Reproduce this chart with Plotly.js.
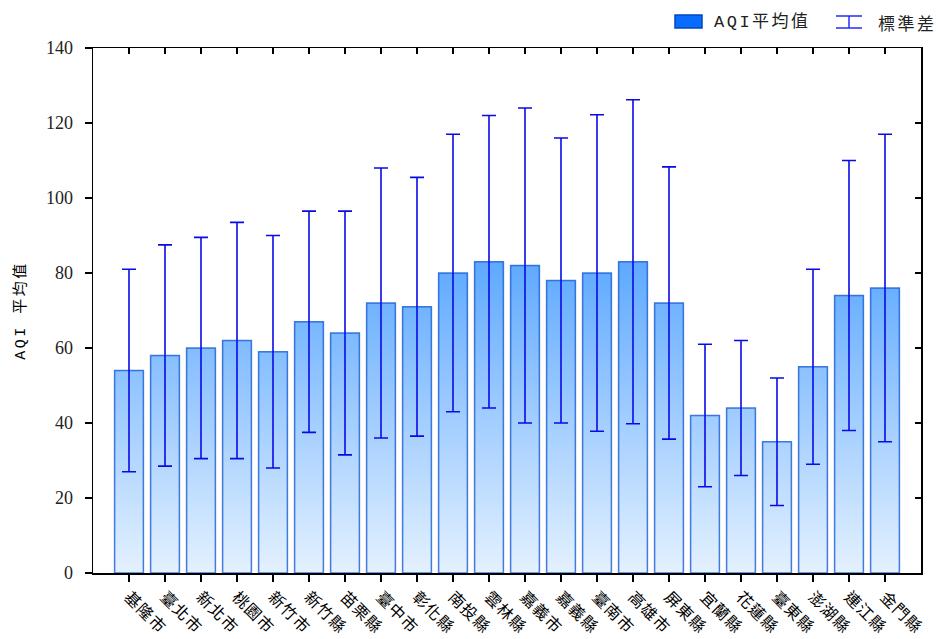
<!DOCTYPE html>
<html><head><meta charset="utf-8">
<script src="https://cdn.plot.ly/plotly-3.0.1.min.js"></script>
<style>
body{margin:0;background:#fff}
#chart{width:939px;height:639px}
#chart .xtick text{letter-spacing:1px}
#chart .annotation-text{letter-spacing:2.5px}
#chart .ytitle{letter-spacing:2.5px}
</style>
</head><body><div id="chart"></div>
<script>
const counties = ['基隆市','臺北市','新北市','桃園市','新竹市','新竹縣','苗栗縣','臺中市','彰化縣','南投縣','雲林縣','嘉義市','嘉義縣','臺南市','高雄市','屏東縣','宜蘭縣','花蓮縣','臺東縣','澎湖縣','連江縣','金門縣'];
const aqiMean = [54,58,60,62,59,67,64,72,71,80,83,82,78,80,83,72,42,44,35,55,74,76];
const aqiStd  = [27,29.5,29.5,31.5,31,29.5,32.5,36,34.5,37,39,42,38,42.2,43.2,36.3,19,18,17,26,36,41];
const yTicks = [0,20,40,60,80,100,120,140];
const seriesName = 'AQI平均值';
const errName = '標準差';

const idx = counties.map((_, i) => i);
const half = 0.4;
const px = [], py = [];
idx.forEach(i => {
  px.push(i - half, i - half, i + half, i + half, i - half, null);
  py.push(0, aqiMean[i], aqiMean[i], 0, 0, null);
});
const maxMean = Math.max(...aqiMean);

const cjk = 'Noto Sans CJK TC';
const traces = [
  {
    type: 'scatter', x: px, y: py, mode: 'lines', fill: 'toself',
    line: {color: 'rgba(10,80,210,0.75)', width: 1.5},
    fillgradient: {type: 'vertical', start: 0, stop: maxMean,
      colorscale: [[0, '#e4f1ff'], [1, '#5ea9ff']]},
    name: seriesName, showlegend: false, hoverinfo: 'skip'
  },
  {
    type: 'scatter', x: idx, y: aqiMean, mode: 'markers',
    marker: {color: 'rgba(0,0,0,0)', size: 2},
    error_y: {type: 'data', array: aqiStd, symmetric: true, color: '#0a0ae8', thickness: 1.6, width: 7},
    name: errName, showlegend: false,
    text: counties, hovertemplate: '%{text}: %{y}<extra></extra>'
  },
  {
    type: 'scatter', x: [0], y: [null], xaxis: 'x2', yaxis: 'y2', mode: 'markers',
    showlegend: false, hoverinfo: 'skip'
  }
];

const L = 93, R = 921, T = 48, B = 573;
const pxX = v => (v - L) / (R - L);
const pxY = v => (B - v) / (B - T);

const layout = {
  width: 939, height: 639,
  margin: {l: L, r: 939 - R, t: T, b: 639 - B},
  paper_bgcolor: '#fff', plot_bgcolor: '#fff',
  showlegend: false,
  xaxis: {
    range: [-1, 22], tickmode: 'array', tickvals: idx, ticktext: counties,
    tickangle: 45, ticks: 'outside', ticklen: 7, tickcolor: '#000', tickwidth: 1.5,
    showline: true, linecolor: '#000', linewidth: 1.5, showgrid: false, zeroline: false,
    tickfont: {family: cjk, size: 16, color: '#000'}
  },
  xaxis2: {
    overlaying: 'x', side: 'top', range: [-1, 22], tickmode: 'array', tickvals: idx,
    ticks: 'inside', ticklen: 6, tickcolor: '#000', tickwidth: 1.5,
    showticklabels: false, showline: true, linecolor: '#000', linewidth: 1.5,
    showgrid: false, zeroline: false
  },
  yaxis: {
    range: [0, 140], tickmode: 'array', tickvals: yTicks,
    ticks: 'outside', ticklen: 7, tickcolor: '#000', tickwidth: 1.5,
    showline: true, linecolor: '#000', linewidth: 1.5, showgrid: false, zeroline: false,
    ticklabelstandoff: 8,
    tickfont: {family: 'Liberation Serif, serif', size: 18, color: '#222'},
    title: {text: 'AQI 平均值', standoff: 16, font: {family: 'Liberation Mono, ' + cjk, size: 15, color: '#000'}}
  },
  yaxis2: {
    overlaying: 'y', side: 'right', range: [0, 140], tickmode: 'array', tickvals: yTicks,
    ticks: 'inside', ticklen: 6, tickcolor: '#000', tickwidth: 1.5,
    showticklabels: false, showline: true, linecolor: '#000', linewidth: 1.5,
    showgrid: false, zeroline: false
  },
  shapes: [
    {type: 'rect', xref: 'paper', yref: 'paper', x0: pxX(675), x1: pxX(702), y0: pxY(28), y1: pxY(15),
      fillcolor: '#0a6cff', line: {color: '#0047c0', width: 1.5}},
    {type: 'line', xref: 'paper', yref: 'paper', x0: pxX(836), x1: pxX(862), y0: pxY(16), y1: pxY(16), line: {color: '#2a2aff', width: 1.5}},
    {type: 'line', xref: 'paper', yref: 'paper', x0: pxX(836), x1: pxX(862), y0: pxY(28), y1: pxY(28), line: {color: '#2a2aff', width: 1.5}},
    {type: 'line', xref: 'paper', yref: 'paper', x0: pxX(849), x1: pxX(849), y0: pxY(16), y1: pxY(28), line: {color: '#2a2aff', width: 1.5}}
  ],
  annotations: [
    {xref: 'paper', yref: 'paper', x: pxX(712), y: pxY(22), xanchor: 'left', yanchor: 'middle', align: 'left', showarrow: false,
      text: seriesName, font: {family: 'Liberation Mono, ' + cjk, size: 17, color: '#222'}},
    {xref: 'paper', yref: 'paper', x: pxX(876), y: pxY(22), xanchor: 'left', yanchor: 'middle', align: 'left', showarrow: false,
      text: errName, font: {family: cjk, size: 17, color: '#222'}}
  ]
};

Plotly.newPlot('chart', traces, layout, {displayModeBar: false, staticPlot: true});
</script>
</body></html>
